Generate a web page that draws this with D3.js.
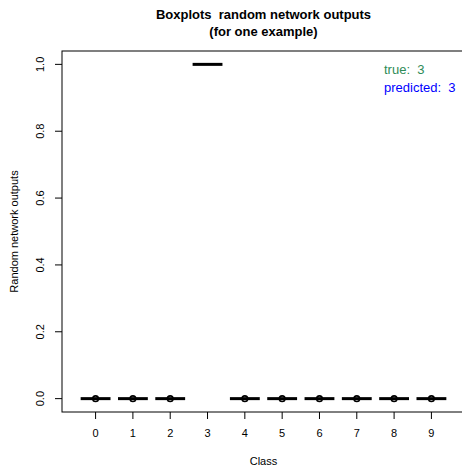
<!DOCTYPE html>
<html>
<head>
<meta charset="utf-8">
<script src="https://cdn.jsdelivr.net/npm/d3@7"></script>
<style>
  body { margin: 0; background: #fff; }
  text { font-family: "Liberation Sans", Arial, sans-serif; white-space: pre; }
</style>
</head>
<body>
<script>
// boxplot summary per class (all boxes collapsed to a line)
const classes = [0, 1, 2, 3, 4, 5, 6, 7, 8, 9];
const medians = [0, 0, 0, 1, 0, 0, 0, 0, 0, 0];
const outliers = [[0], [0], [0], [], [0], [0], [0], [0], [0], [0]];
const yTicks = [0, 0.2, 0.4, 0.6, 0.8, 1.0];
const trueClass = 3;
const predictedClass = 3;

const width = 462, height = 466;
const plotLeft = 62, plotRight = 465, plotTop = 51, plotBottom = 412;

const svg = d3.select("body").append("svg")
  .attr("width", width).attr("height", height);

// R style: positions 1..10, xlim 0.5..10.5 with 4% padding
const x = d3.scaleLinear().domain([0.5 - 0.4, 10.5 + 0.4]).range([plotLeft, plotRight]);
const y = d3.scaleLinear().domain([-0.04, 1.04]).range([plotBottom, plotTop]);
const boxHalf = 0.4;

svg.append("rect")
  .attr("x", plotLeft).attr("y", plotTop)
  .attr("width", plotRight - plotLeft).attr("height", plotBottom - plotTop)
  .attr("fill", "none").attr("stroke", "#000").attr("stroke-width", 1);

// x axis
const xAxis = svg.append("g").attr("transform", `translate(0,${plotBottom})`);
xAxis.selectAll("line").data(classes).enter().append("line")
  .attr("x1", (d, i) => x(i + 1)).attr("x2", (d, i) => x(i + 1))
  .attr("y1", 0).attr("y2", 7).attr("stroke", "#000");
xAxis.selectAll("text").data(classes).enter().append("text")
  .attr("x", (d, i) => x(i + 1)).attr("y", 25)
  .attr("text-anchor", "middle").attr("font-size", 11).text(d => d);

// y axis
const yAxis = svg.append("g").attr("transform", `translate(${plotLeft},0)`);
yAxis.selectAll("line").data(yTicks).enter().append("line")
  .attr("x1", 0).attr("x2", -7)
  .attr("y1", d => y(d)).attr("y2", d => y(d)).attr("stroke", "#000");
yAxis.selectAll("text").data(yTicks).enter().append("text")
  .attr("transform", d => `translate(-18,${y(d)}) rotate(-90)`)
  .attr("text-anchor", "middle").attr("font-size", 11)
  .text(d => d3.format(".1f")(d));

// boxes (medians)
svg.append("g").selectAll("line").data(medians).enter().append("line")
  .attr("x1", (d, i) => x(i + 1 - boxHalf)).attr("x2", (d, i) => x(i + 1 + boxHalf))
  .attr("y1", d => y(d)).attr("y2", d => y(d))
  .attr("stroke", "#000").attr("stroke-width", 3);

// outlier points
outliers.forEach((pts, i) => {
  svg.append("g").selectAll("circle").data(pts).enter().append("circle")
    .attr("cx", x(i + 1)).attr("cy", d => y(d)).attr("r", 2.8)
    .attr("fill", "none").attr("stroke", "#000").attr("stroke-width", 1.6);
});

// titles
const cx = (plotLeft + plotRight) / 2;
svg.append("text").attr("x", cx).attr("y", 19).attr("text-anchor", "middle")
  .attr("font-size", 13).attr("font-weight", "bold")
  .text("Boxplots  random network outputs");
svg.append("text").attr("x", cx).attr("y", 36).attr("text-anchor", "middle")
  .attr("font-size", 13).attr("font-weight", "bold")
  .text("(for one example)");
svg.append("text").attr("x", cx).attr("y", 465).attr("text-anchor", "middle")
  .attr("font-size", 11).text("Class");
svg.append("text")
  .attr("transform", `translate(18,${(plotTop + plotBottom) / 2}) rotate(-90)`)
  .attr("text-anchor", "middle").attr("font-size", 11)
  .text("Random network outputs");

// legend text
svg.append("text").attr("x", 384).attr("y", 74).attr("font-size", 13)
  .attr("fill", "#2e8b57").text(`true:  ${trueClass}`);
svg.append("text").attr("x", 384).attr("y", 92).attr("font-size", 13)
  .attr("fill", "#0000ff").text(`predicted:  ${predictedClass}`);
</script>
</body>
</html>
